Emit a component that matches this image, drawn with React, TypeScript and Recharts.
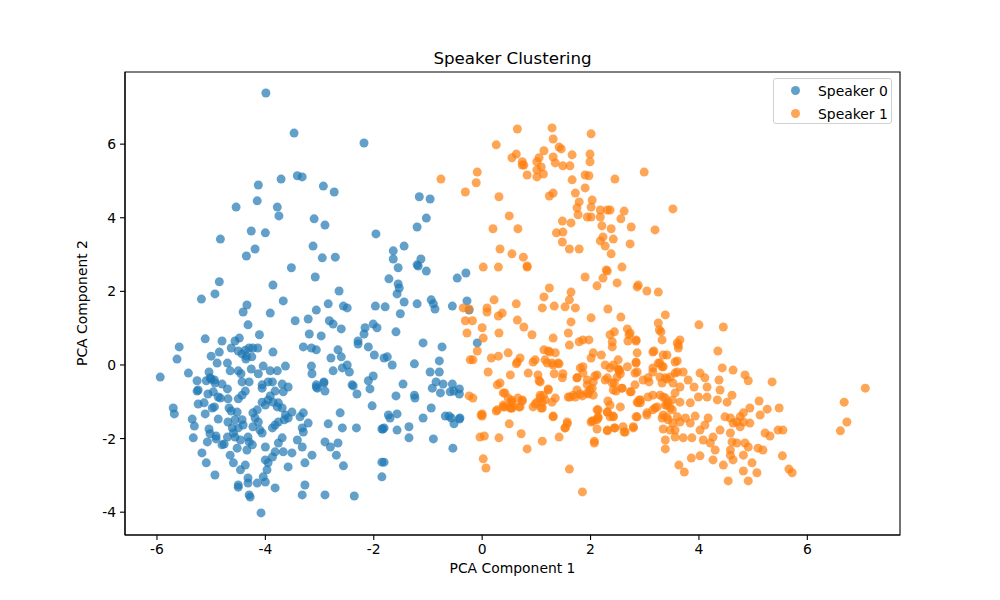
import React from 'react';
import { ScatterChart, Scatter, XAxis, YAxis, ReferenceArea } from 'recharts';

const xTicks = [-6, -4, -2, 0, 2, 4, 6];
const yTicks = [-4, -2, 0, 2, 4, 6];
const seriesNames = ['Speaker 0', 'Speaker 1'];
const seriesColors = ['#1f77b4', '#ff7f0e'];

const speaker0: number[][] = [
  [-3.99,7.39],[-3.47,6.30],[-2.18,6.03],[-4.13,4.89],[-3.71,5.05],[-3.41,5.14],[-3.32,5.11],[-2.93,4.86],[-2.73,4.70],[-4.54,4.29],[-4.15,4.46],[-3.78,4.29],[-3.75,4.05],[-3.10,3.97],[-2.90,3.80],[-4.26,3.64],[-4.00,3.59],[-1.96,3.56],
  [-4.83,3.42],[-4.19,3.15],[-4.35,2.96],[-3.12,3.23],[-2.95,2.91],[-2.71,2.93],[-3.52,2.64],[-3.08,2.39],[-4.85,2.26],[-4.93,1.93],[-5.18,1.79],[-3.86,2.17],[-2.64,2.01],[-3.67,1.74],[-4.34,1.63],[-4.41,1.44],[-3.91,1.41],[-3.06,1.49],[-2.84,1.66],[-2.56,1.60],[-2.49,1.55],[-1.97,1.60],[-4.32,1.09],[-3.45,1.20],[-3.21,1.25],[-2.82,1.20],[-2.75,1.11],[-2.60,0.98],[-2.16,1.01],[-2.18,0.84],[-2.01,1.11],[-1.94,1.01],[-4.11,0.82],[-3.19,0.84],[-2.97,0.79],[-5.11,0.71],[-4.80,0.65],[-4.56,0.65],[-4.48,0.73],[-2.29,0.65],[-2.29,0.57],[-5.59,0.49],[-5.63,0.16],[-5.94,-0.33],[-5.42,-0.22],[-4.85,0.35],[-5.00,0.24],[-4.63,0.46],[-4.89,0.05],[-4.70,0.05],
  [-4.50,0.38],[-4.43,0.30],[-4.37,0.40],[-4.30,0.46],[-4.23,0.46],[-4.14,0.46],[-4.35,0.24],[-4.25,0.22],[-4.36,0.16],[-3.86,0.35],
  [-4.04,-0.03],[-3.91,-0.16],[-3.78,-0.16],[-3.63,-0.03],[-4.26,-0.11],[-4.13,-0.24],
  [-4.65,-0.16],[-4.50,-0.16],[-4.45,-0.24],[-5.04,-0.19],[-5.00,-0.38],[-5.09,-0.43],[-5.26,-0.43],[-4.94,-0.41],
  [-3.30,0.49],[-3.15,0.46],[-3.06,0.41],[-2.66,0.41],[-2.60,0.22],[-2.79,0.19],[-3.15,-0.03],[-3.14,-0.24],[-2.75,-0.16],[-2.58,-0.08],[-2.49,0.00],[-2.45,-0.19],[-1.99,0.27],[-2.10,0.49],[-1.81,0.19],
  [-2.01,-0.30],[-2.10,-0.43],[-2.40,-0.54],[-2.92,-0.46],[-3.06,-0.54],
  [-4.43,-0.46],[-4.30,-0.46],[-3.95,-0.46],[-3.87,-0.46],[-3.69,-0.52],[-4.06,-0.54],
  [-5.26,-0.71],[-5.24,-0.68],[-5.02,-0.35],[-4.80,-0.52],[-4.70,-0.65],[-4.93,-0.49],
  [-5.06,-0.79],[-4.96,-0.73],[-4.87,-0.87],[-4.83,-0.90],[-4.69,-0.92],[-4.50,-0.92],[-4.43,-0.82],[-4.37,-0.71],[-4.06,-0.63],[-3.82,-0.71],[-3.91,-0.84],[-3.76,-1.03],[-3.67,-0.73],[-3.58,-0.60],
  [-5.24,-1.06],[-5.13,-1.03],[-4.98,-1.17],[-4.94,-1.14],[-5.11,-1.33],[-5.70,-1.17],[-5.68,-1.33],[-5.35,-1.47],[-5.31,-1.66],[-5.33,-1.98],[-5.07,-2.09],[-5.17,-2.39],[-5.09,-2.66],[-4.93,-2.99],[-5.04,-1.74],[-5.02,-1.87],[-4.91,-1.93],[-4.91,-2.01],[-4.87,-1.47],[-4.76,-2.15],
  [-4.67,-1.17],[-4.63,-1.25],[-4.52,-1.28],[-4.69,-1.55],[-4.56,-1.49],[-4.43,-1.49],[-4.61,-1.71],[-4.50,-1.71],[-4.41,-1.63],[-4.70,-1.96],[-4.56,-1.96],[-4.59,-1.85],[-4.46,-2.04],[-4.32,-1.96],[-4.30,-2.09],[-4.24,-2.17],[-4.34,-2.31],[-4.23,-1.30],[-4.15,-1.22],[-4.06,-1.01],[-4.00,-1.09],[-3.95,-0.95],[-3.86,-1.01],[-3.78,-1.14],[-3.69,-1.17],[-3.63,-1.36],[-4.19,-1.44],[-4.13,-1.55],[-4.23,-1.68],[-4.10,-1.77],[-4.06,-1.85],[-3.87,-1.71],[-3.82,-1.63],[-3.76,-1.55],[-3.65,-1.49],[-3.58,-1.44],[-3.51,-1.28],[-3.69,-1.98],[-3.76,-2.12],[-3.67,-2.36],[-3.82,-2.36],[-3.87,-2.50],[-4.00,-2.58],[-3.95,-2.66],[-3.97,-2.85],[-4.04,-3.04],[-4.00,-3.18],[-4.15,-3.21],[-4.32,-3.07],[-4.32,-3.21],[-4.50,-3.26],[-4.50,-3.32],[-4.30,-3.53],[-4.28,-3.59],[-4.08,-4.02],[-3.82,-3.34],[-4.37,-2.72],[-4.46,-2.85],[-4.59,-2.66],[-4.65,-2.45],[-4.52,-2.26],[-4.80,-2.17],[-4.00,-2.23],[-3.58,-2.77],[-3.41,-2.04],[-3.32,-2.23],[-3.51,-2.39],[-3.27,-2.66],[-3.14,-2.45],[-3.27,-3.26],[-3.32,-3.53],[-3.36,-1.41],[-3.30,-1.30],[-3.21,-1.58],[-3.32,-1.71],[-3.30,-1.82],[-3.04,-0.63],[-2.90,-0.71],[-3.06,-0.60],[-2.92,-0.49],[-2.84,-1.60],[-2.58,-1.71],[-2.32,-1.71],[-2.90,-2.09],[-2.80,-2.23],[-2.66,-2.12],[-2.69,-2.45],[-2.56,-2.74],[-2.36,-3.56],[-2.62,-1.30],[-2.38,-0.57],[-2.31,-0.79],[-2.07,-0.65],[-2.03,-1.11],[-1.85,-1.74],[-1.81,-1.71],[-1.85,-2.64],[-1.85,-3.04],
  [-1.55,2.64],[-1.18,2.69],[-1.03,2.55],[-0.46,2.36],[-0.30,2.50],
  [-1.72,2.34],[-1.55,2.20],[-1.53,2.09],[-1.57,1.93],[-1.79,1.58],[-1.44,1.71],[-1.20,1.66],[-0.94,1.77],[-0.90,1.66],[-0.87,1.52],[-0.55,1.60],[-0.28,1.74],[-0.24,1.49],[-1.51,1.39],[-1.59,0.90],[-1.09,0.60],[-0.74,0.49],[-1.75,0.22],[-1.66,0.00],[-1.25,0.03],[-0.79,0.11],[-0.96,-0.19],[-0.79,-0.19],[-1.46,-0.52],[-0.85,-0.46],[-0.72,-0.52],[-0.55,-0.52],[-0.42,-0.65],[-1.59,-0.84],[-1.25,-0.82],[-1.24,-0.90],[-0.92,-0.63],[-0.77,-0.76],[-0.59,-0.73],[-0.52,-0.71],[-0.42,-0.79],[-0.94,-1.17],[-0.68,-1.39],[-0.61,-1.39],[-0.57,-1.44],[-0.41,-1.44],[-1.09,-1.44],[-1.57,-1.33],[-1.73,-1.36],[-1.70,-1.44],[-0.09,0.60],
  [-1.16,4.57],[-0.96,4.51],[-1.03,3.99],[-1.20,3.75],[-1.64,3.10],[-1.44,3.23],[-1.64,2.88],[-1.13,2.88],[-1.20,2.72],
  [-1.83,-1.74],[-1.57,-1.77],[-1.35,-1.68],[-1.35,-1.98],[-0.52,-1.60],[-0.42,-1.47],[-0.90,-2.01],[-0.54,-2.26],[-1.81,-2.64],[-2.90,-3.53],
];

const speaker1: number[][] = [
  [0.65,6.41],[1.29,6.44],[1.31,6.14],[2.01,6.28],[0.26,5.98],[0.63,5.73],[0.55,5.63],[0.74,5.52],[0.77,5.43],[0.74,5.43],[1.14,5.82],[1.42,5.92],[1.46,5.87],[1.05,5.63],[1.01,5.52],[1.09,5.38],[1.01,5.30],[1.13,5.19],[1.01,5.11],[0.83,5.16],[1.31,5.65],[1.35,5.49],[1.49,5.41],[1.62,5.41],[1.66,5.71],[1.99,5.73],[1.99,5.52],[1.90,5.16],[1.97,5.14],[1.66,5.03],[-0.76,5.05],[-0.09,5.24],[-0.11,4.95],[-0.31,4.70],[0.31,4.57],[1.24,4.59],[1.31,4.67],[1.72,4.67],[1.90,4.81],
  [1.79,4.43],[2.03,4.48],[1.75,4.27],[2.01,4.29],[1.77,4.08],[1.94,4.02],[2.01,4.02],[2.18,4.21],[2.18,4.02],[2.31,4.21],[2.36,4.21],[2.62,4.18],[2.56,3.97],[2.75,3.75],[0.50,4.05],[0.20,3.70],[0.66,3.70],[1.48,3.91],[1.64,3.86],[1.37,3.59],[1.49,3.61],[1.48,3.34],[1.61,3.15],[1.79,3.15],[2.21,3.78],[2.38,3.70],[2.23,3.48],[2.42,3.42],[2.18,3.37],[2.27,3.23],[2.38,3.02],[2.73,3.29],[0.33,3.15],[0.55,3.02],[0.76,2.93],[0.83,2.69],[0.02,2.66],[0.30,2.66],[2.29,2.58],[2.58,2.66],
  [2.45,5.05],[2.99,5.24],[3.52,4.24],[3.19,3.67],[2.88,2.17],[3.25,1.98],[3.04,2.01],
  [0.83,2.66],[1.90,2.39],[2.12,2.15],[2.23,2.36],[2.31,2.55],[2.49,2.23],[2.86,2.12],
  [1.24,2.09],[1.14,1.85],[1.64,1.98],[1.61,1.77],[1.33,1.60],[1.11,1.55],[1.53,1.58],[1.72,1.55],[0.22,1.77],[0.09,1.55],[0.09,1.44],[0.63,1.66],[-0.35,1.55],[-0.24,1.52],[0.37,1.41],[0.30,1.33],[2.32,1.52],[2.56,1.30],[2.01,1.28],[1.64,1.17],[0.65,1.22],[0.77,1.03],[0.92,0.82],[1.31,0.73],[1.59,0.87],[1.61,0.54],[1.79,0.63],[1.86,0.68],[1.97,0.68],[2.36,0.82],[2.44,0.90],[2.40,0.63],[2.40,0.49],[2.68,0.98],[2.71,0.82],[2.69,0.65],[2.84,0.65],[-0.31,1.20],[-0.18,1.20],[0.00,1.01],[-0.28,0.87],[0.02,0.73],[0.31,0.87],[-0.09,0.38],[-0.22,0.14],[-0.17,0.14],[0.17,0.19],[0.30,0.24],[0.48,0.33],[0.11,-0.19],[0.70,0.19],[0.65,0.08],[0.63,0.03],[0.94,0.08],[0.98,0.14],[0.85,-0.22],[0.52,-0.27],[1.14,0.41],[1.22,0.38],[1.35,0.33],[1.16,0.14],[1.20,0.05],[1.31,0.00],[1.42,0.03],[1.33,-0.24],[1.49,-0.24],[1.48,-0.35],[1.03,-0.27],[1.07,-0.46],[1.75,-0.35],[1.86,-0.22],[1.86,-0.05],[2.01,0.19],[2.20,0.27],[2.05,0.33],[2.12,-0.27],[2.27,0.00],[2.36,-0.08],[2.51,0.14],[2.53,-0.14],[2.68,-0.05],[2.55,-0.24],[2.86,0.33],[2.84,0.08],[2.86,-0.19],[2.82,-0.54],[2.31,-0.35],[2.44,-0.49],[2.47,-0.71],[2.58,-0.63],[2.75,-0.73],[2.05,-0.46],[1.94,-0.54],[1.75,-0.68],[1.85,-0.84],[1.96,-0.79],[1.99,-0.68],[1.68,-0.82],[1.59,-0.87],[1.35,-0.90],[1.22,-0.65],[1.13,-0.82],[1.07,-0.90],[1.01,-1.01],[0.94,-1.14],[1.11,-1.17],[0.74,-0.95],[0.66,-0.90],[0.54,-0.95],[0.48,-0.90],[0.42,-0.76],[0.55,-1.01],[0.55,-1.17],[0.28,-0.54],[0.33,-0.49],[0.28,-1.22],[-0.24,-0.84],[-0.17,-0.90],[0.00,-1.33],[0.39,-1.09],[0.50,-1.60],[1.31,-1.41],[1.57,-1.55],[2.05,-1.52],[2.14,-1.44],[2.31,-1.28],[2.42,-1.39],[2.32,-0.98],[2.55,-1.14],[2.90,-0.95],[2.12,-1.22],
  [-0.02,-1.36],[0.26,-1.25],[0.39,-1.14],[0.54,-1.17],[0.54,-1.03],[0.68,-1.14],[0.74,-0.98],[0.98,-1.06],[1.09,-1.17],[1.11,-1.01],[1.29,-1.01],[1.31,-1.39],[1.57,-1.60],[1.53,-1.71],[1.42,-1.96],[1.11,-2.07],[0.83,-2.28],[0.72,-1.87],[0.31,-1.98],[-0.04,-1.96],[0.04,-1.93],[0.02,-2.55],[0.07,-2.80],[1.61,-2.83],[1.85,-3.45],[2.01,-1.55],[2.14,-1.41],[2.12,-1.74],[2.31,-1.79],[2.44,-1.71],[2.60,-1.68],[2.62,-1.82],[2.79,-1.71],[2.36,-1.41],[2.86,-1.41],[2.07,-2.07],[2.07,-2.12],
  [3.38,1.36],[4.00,1.09],[4.45,1.03],[3.25,1.14],[3.27,0.95],[3.30,0.90],[3.32,0.68],[3.62,0.54],[3.65,0.68],[3.62,0.46],[2.84,0.68],[2.73,0.87],
  [3.17,0.38],[3.34,0.27],[3.41,0.27],[3.60,0.11],[2.84,0.05],[2.82,-0.22],[3.15,-0.08],[3.28,0.05],[3.34,-0.05],[2.97,-0.41],[3.06,-0.35],[3.28,-0.33],[3.41,-0.38],[3.56,-0.22],[3.71,-0.19],[3.80,-0.41],[3.65,-0.60],[3.91,-0.60],[4.02,-0.22],[4.11,-0.35],[4.15,-0.60],[4.37,-0.41],[4.35,0.38],[4.43,-0.08],[4.63,-0.14],[4.85,-0.27],[4.91,-0.43],[5.35,-0.46],[3.99,-0.87],[4.15,-0.87],[4.39,-0.68],[4.61,-0.82],[4.34,-0.95],[4.52,-1.01],[2.73,-0.73],[2.92,-0.95],[2.88,-1.03],[3.06,-0.87],[3.19,-1.17],[3.04,-1.36],[2.84,-1.41],[2.79,-1.68],
  [3.34,-0.87],[3.41,-1.09],[3.47,-1.17],[3.34,-1.36],[3.43,-1.49],[3.60,-1.41],[3.65,-1.55],[3.75,-1.44],[3.84,-1.58],[3.93,-1.39],[3.84,-1.03],[3.65,-1.01],[3.51,-0.95],[3.34,-1.74],[3.56,-1.96],[3.71,-1.98],[3.87,-1.98],[3.38,-2.04],[3.38,-2.28],[4.02,-1.77],[4.11,-1.63],[4.17,-1.44],[4.08,-2.04],[4.21,-2.12],[4.26,-1.96],[4.39,-1.77],[4.48,-1.41],[4.58,-1.44],[4.63,-1.58],[4.58,-1.85],[4.70,-1.55],[4.76,-1.41],[4.82,-1.30],[4.94,-1.17],[5.11,-0.98],[5.26,-1.20],[5.48,-1.17],[5.13,-1.36],[4.94,-1.58],[4.82,-1.55],[4.76,-1.68],[4.61,-2.09],[4.70,-2.12],[4.85,-2.12],[4.91,-2.23],[5.09,-2.26],[5.18,-2.31],[5.22,-1.85],[5.46,-1.77],[5.55,-1.77],[5.31,-1.93],[4.58,-2.31],[4.58,-2.45],[4.63,-2.58],[4.82,-2.45],[4.30,-2.31],[4.26,-2.58],[4.45,-2.72],[4.02,-2.47],[3.86,-2.53],[3.63,-2.72],[3.73,-2.91],[4.54,-3.15],[4.91,-3.15],[4.82,-2.88],[4.98,-2.66],[5.07,-2.93],[5.54,-2.47],[5.66,-2.83],[5.72,-2.93],
  [7.07,-0.63],[6.68,-1.01],[6.73,-1.55],[6.61,-1.79],
  [3.60,0.60],[1.25,0.35],[1.29,0.05],[1.40,0.05],[1.05,-0.43],[2.42,0.00],[2.51,-0.11],[1.81,-0.08],[1.75,-0.35],[1.94,-0.41],[2.08,-0.30],[2.27,-0.41],[2.40,-0.49],[2.42,-0.68],[2.53,-0.16],[2.49,-0.33],[2.58,-0.63],
  [3.15,0.35],[3.25,0.05],[3.32,-0.05],[3.15,-0.19],[3.56,0.08],[3.60,-0.19],[3.47,-0.33],[3.38,-0.35],[3.32,-0.49],[3.52,-0.49],[3.08,-0.46],
  [0.39,-0.76],[0.52,-1.17],[0.42,-1.14],[0.70,-1.14],[1.07,-0.82],[1.22,-0.68],[1.16,-0.95],[1.62,-0.87],[1.72,-0.87],[1.81,-0.79],[1.94,-0.76],[2.03,-0.63],[2.05,-0.82],
  [2.36,-1.09],[2.14,-1.22],[2.31,-1.28],[2.12,-1.49],[2.42,-1.41],[1.53,-1.71],[2.03,-1.52],[2.31,-1.77],[2.45,-1.71],[2.64,-1.82],
  [2.86,-1.01],[2.92,-1.03],[3.04,-1.30],[3.15,-1.22],[3.23,-1.14],[3.38,-1.09],[3.43,-1.01],[3.51,-1.22],[3.41,-1.41],[3.32,-1.44],[3.56,-0.76],[3.15,-0.82],[3.28,-0.82],[3.38,-0.90],[3.52,-1.58],[3.47,-1.77],[3.56,-1.77],[0.00,-1.39],
];

const X_DOMAIN: [number, number] = [-6.59, 7.71];
const Y_DOMAIN: [number, number] = [-4.62, 7.96];

const toRows = (pts: number[][]) => pts.map(([x, y]) => ({ x, y }));
const seriesData = [toRows(speaker0), toRows(speaker1)];

const FONT = '"DejaVu Sans", sans-serif';

export default function App() {
  return (
    <div style={{ position: 'fixed', left: 0, top: 0, width: 1000, height: 600, background: '#fff', fontFamily: FONT }}>
      <ScatterChart width={1000} height={600} margin={{ top: 72, right: 100, bottom: 0, left: 0 }}>
        <XAxis
          type="number"
          dataKey="x"
          domain={X_DOMAIN}
          ticks={xTicks}
          height={65}
          tickSize={5}
          tickMargin={4}
          allowDataOverflow
          stroke="#000"
          tick={{ fill: '#000', fontSize: 13.9, fontFamily: FONT }}
          axisLine={{ stroke: '#000', strokeWidth: 1.1 }}
          tickLine={{ stroke: '#000', strokeWidth: 1.1 }}
        />
        <YAxis
          type="number"
          dataKey="y"
          domain={Y_DOMAIN}
          ticks={yTicks}
          width={125}
          tickSize={5}
          tickMargin={4}
          allowDataOverflow
          stroke="#000"
          tick={{ fill: '#000', fontSize: 13.9, fontFamily: FONT }}
          axisLine={{ stroke: '#000', strokeWidth: 1.1 }}
          tickLine={{ stroke: '#000', strokeWidth: 1.1 }}
        />
        {seriesData.map((d, i) => (
          <Scatter
            key={seriesNames[i]}
            name={seriesNames[i]}
            data={d}
            fill={seriesColors[i]}
            fillOpacity={0.7}
            isAnimationActive={false}
            shape={(p: any) => <circle cx={p.cx} cy={p.cy} r={4.5} fill={seriesColors[i]} fillOpacity={0.7} />}
          />
        ))}
        <ReferenceArea x1={X_DOMAIN[0]} x2={X_DOMAIN[1]} y1={Y_DOMAIN[0]} y2={Y_DOMAIN[1]} fill="none" stroke="#000" strokeWidth={1.1} fillOpacity={0} />
      </ScatterChart>
      <div style={{ position: 'absolute', left: 125, width: 775, top: 48, textAlign: 'center', fontSize: 16.7, lineHeight: '20px', color: '#000' }}>
        Speaker Clustering
      </div>
      <div style={{ position: 'absolute', left: 125, width: 775, top: 559, textAlign: 'center', fontSize: 13.9, lineHeight: '18px', color: '#000' }}>
        PCA Component 1
      </div>
      <div style={{ position: 'absolute', left: 82, top: 303, width: 0, height: 0 }}>
        <div style={{ position: 'absolute', left: -100, top: -9, width: 200, textAlign: 'center', fontSize: 13.9, lineHeight: '18px', transform: 'rotate(-90deg)', color: '#000', whiteSpace: 'nowrap' }}>
          PCA Component 2
        </div>
      </div>
      <div style={{ position: 'absolute', left: 773, top: 78, width: 119, height: 46, border: '1px solid #d0d0d0', borderRadius: 3, background: 'rgba(255,255,255,0.8)', boxSizing: 'border-box' }}>
        {seriesNames.map((n, i) => (
          <div key={n} style={{ position: 'absolute', left: 0, top: 3 + i * 23, height: 18, width: 119 }}>
            <div style={{ position: 'absolute', left: 17, top: 4, width: 9, height: 9, borderRadius: 5, background: seriesColors[i], opacity: 0.7 }} />
            <div style={{ position: 'absolute', left: 44, top: 0, fontSize: 13.9, lineHeight: '18px', color: '#000', whiteSpace: 'nowrap' }}>{n}</div>
          </div>
        ))}
      </div>
    </div>
  );
}
